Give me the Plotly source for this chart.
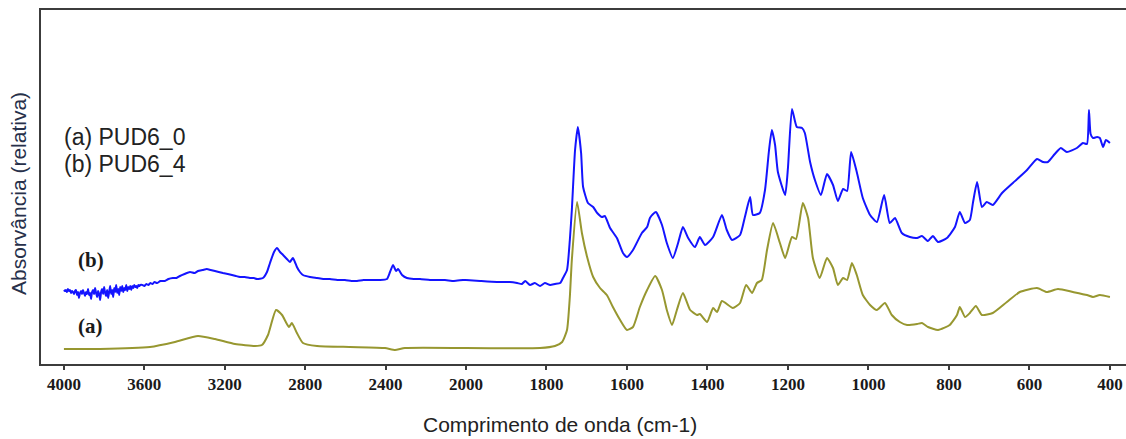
import numpy as np
import plotly.graph_objects as go

# ---------------- data (wavenumber cm-1, relative absorbance) ----------------
wn_a = [4000, 3821, 3572, 3448, 3333, 3249, 3149, 3050, 3015, 2985, 2945, 2915, 2881, 2866,
        2841, 2811, 2741, 2577, 2403, 2353, 2304, 2000, 1816, 1779, 1761, 1749, 1742, 1737,
        1724, 1712, 1699, 1684, 1667, 1650, 1635, 1617, 1600, 1585, 1568, 1550, 1530, 1513,
        1501, 1488, 1476, 1461, 1443, 1426, 1419, 1401, 1386, 1376, 1364, 1337, 1319, 1304,
        1289, 1277, 1265, 1252, 1237, 1220, 1207, 1190, 1180, 1163, 1150, 1138, 1121, 1103,
        1088, 1076, 1063, 1053, 1041, 1029, 1014, 996, 979, 959, 942, 922, 904, 879, 867,
        852, 827, 798, 780, 773, 760, 748, 733, 718, 691, 656, 624, 581, 557, 529, 492, 457,
        442, 425, 400]
abs_a = [0.15, 0.15, 0.17, 0.22, 0.28, 0.25, 0.20, 0.18, 0.19, 0.29, 0.54, 0.49, 0.37, 0.41,
         0.31, 0.21, 0.18, 0.17, 0.16, 0.14, 0.16, 0.16, 0.16, 0.18, 0.22, 0.34, 0.67, 1.04,
         1.62, 1.31, 1.07, 0.87, 0.76, 0.69, 0.57, 0.44, 0.34, 0.37, 0.57, 0.74, 0.88, 0.74,
         0.54, 0.39, 0.54, 0.71, 0.54, 0.49, 0.50, 0.42, 0.56, 0.52, 0.63, 0.56, 0.61, 0.79,
         0.71, 0.81, 0.84, 1.14, 1.41, 1.21, 1.06, 1.27, 1.25, 1.61, 1.46, 1.06, 0.86, 1.06,
         0.96, 0.79, 0.86, 0.84, 1.01, 0.89, 0.69, 0.59, 0.54, 0.61, 0.49, 0.42, 0.39, 0.40, 0.41,
         0.37, 0.34, 0.39, 0.49, 0.57, 0.47, 0.51, 0.58, 0.49, 0.51, 0.62, 0.72, 0.76, 0.72, 0.75, 0.72, 0.69,
         0.67, 0.69, 0.67]

wn_b = [4000, 3995, 3990, 3985, 3980, 3975, 3970, 3965, 3960, 3955, 3950, 3945, 3940, 3935,
        3930, 3925, 3920, 3915, 3910, 3905, 3900, 3895, 3890, 3885, 3880, 3875, 3870, 3865,
        3860, 3855, 3850, 3845, 3840, 3835, 3830, 3825, 3820, 3815, 3810, 3805, 3800, 3795,
        3790, 3785, 3780, 3775, 3770, 3765, 3760, 3755, 3750, 3745, 3740, 3735, 3730, 3725,
        3720, 3715, 3710, 3705, 3700, 3695, 3690, 3685, 3680, 3675, 3670, 3665, 3660, 3655,
        3650, 3645, 3640, 3635, 3630, 3625, 3620, 3610, 3600, 3590, 3580, 3570, 3560, 3550,
        3537, 3520, 3498, 3480, 3458, 3440, 3423, 3400, 3373, 3350, 3333, 3310, 3289, 3270,
        3249, 3230, 3209, 3185, 3164, 3145, 3124, 3100, 3075, 3055, 3040, 3010, 2990, 2975,
        2955, 2940, 2925, 2910, 2891, 2876, 2861, 2851, 2841, 2826, 2811, 2776, 2741, 2710,
        2677, 2640, 2602, 2570, 2542, 2510, 2478, 2430, 2393, 2378, 2363, 2348, 2338, 2318,
        2294, 2260, 2229, 2179, 2140, 2105, 2060, 2015, 2000, 1965, 1923, 1891, 1873, 1861,
        1853, 1841, 1829, 1816, 1804, 1791, 1779, 1766, 1759, 1749, 1742, 1737, 1729, 1722,
        1714, 1709, 1697, 1684, 1674, 1662, 1655, 1642, 1625, 1610, 1600, 1585, 1563, 1550,
        1543, 1535, 1528, 1513, 1501, 1486, 1473, 1461, 1448, 1431, 1419, 1406, 1386, 1364,
        1352, 1339, 1319, 1307, 1294, 1287, 1270, 1257, 1247, 1240, 1232, 1225, 1207, 1200,
        1190, 1178, 1165, 1158, 1145, 1133, 1118, 1103, 1088, 1076, 1063, 1053, 1043, 1029,
        1014, 996, 979, 961, 947, 934, 917, 897, 879, 867, 852, 840, 827, 805, 785, 773, 760,
        748, 740, 730, 718, 706, 691, 668, 641, 606, 581, 566, 554, 537, 522, 507, 482, 467,
        457, 452, 448, 442, 432, 425, 417, 410, 400]
abs_b = [0.74, 0.73, 0.74, 0.72, 0.75, 0.73, 0.74, 0.71, 0.73, 0.72,
         0.70, 0.73, 0.74, 0.69, 0.72, 0.66, 0.71, 0.73, 0.70, 0.74,
         0.71, 0.68, 0.72, 0.70, 0.75, 0.69, 0.71, 0.65, 0.72, 0.74,
         0.70, 0.76, 0.71, 0.67, 0.73, 0.70, 0.64, 0.72, 0.75, 0.70,
         0.77, 0.71, 0.68, 0.74, 0.66, 0.72, 0.78, 0.70, 0.74, 0.67,
         0.76, 0.72, 0.79, 0.71, 0.75, 0.69, 0.77, 0.73, 0.78, 0.72,
         0.76, 0.74, 0.79, 0.73, 0.77, 0.75, 0.78, 0.74, 0.78, 0.76,
         0.79, 0.77, 0.78, 0.76, 0.79, 0.78, 0.79,
         0.79, 0.78, 0.80, 0.79, 0.81, 0.80, 0.82,
         0.81, 0.83, 0.83, 0.85, 0.86, 0.86, 0.88, 0.90, 0.92, 0.91, 0.93, 0.94, 0.95, 0.94,
         0.93, 0.92, 0.91, 0.90, 0.89, 0.88, 0.87, 0.87, 0.86, 0.86, 0.85, 0.86, 0.92, 1.01,
         1.12, 1.16, 1.12, 1.09, 1.05, 1.02, 1.06, 1.02, 0.97, 0.92, 0.89, 0.87, 0.86, 0.85,
         0.85, 0.84, 0.84, 0.83, 0.83, 0.84, 0.84, 0.84, 0.85, 0.92, 0.99, 0.93, 0.95, 0.89,
         0.86, 0.85, 0.85, 0.84, 0.84, 0.84, 0.83, 0.84, 0.84, 0.83, 0.82, 0.82, 0.81, 0.80,
         0.83, 0.79, 0.81, 0.78, 0.81, 0.79, 0.80, 0.81, 0.86, 0.94, 1.24, 1.54, 2.14, 2.37,
         2.11, 1.77, 1.61, 1.57, 1.51, 1.47, 1.48, 1.36, 1.26, 1.11, 1.07, 1.14, 1.31, 1.37,
         1.46, 1.50, 1.52, 1.39, 1.21, 1.06, 1.21, 1.37, 1.26, 1.17, 1.27, 1.19, 1.27, 1.49,
         1.34, 1.24, 1.29, 1.47, 1.67, 1.49, 1.51, 1.74, 2.14, 2.34, 2.19, 1.92, 1.69, 1.96,
         2.55, 2.37, 2.36, 2.31, 2.02, 1.84, 1.69, 1.90, 1.79, 1.63, 1.75, 1.73, 2.12, 1.92,
         1.66, 1.49, 1.42, 1.69, 1.41, 1.46, 1.31, 1.27, 1.26, 1.28, 1.23, 1.28, 1.22, 1.26, 1.37, 1.52, 1.41,
         1.44, 1.62, 1.82, 1.57, 1.62, 1.59, 1.71, 1.81, 1.94, 2.05, 2.02, 2.02, 2.10, 2.16, 2.12, 2.16, 2.21,
         2.20, 2.54, 2.30, 2.26, 2.27, 2.26, 2.17, 2.24, 2.21]

ticks_high = [4000, 3600, 3200, 2800, 2400, 2000]
ticks_low = [1800, 1600, 1400, 1200, 1000, 800, 600, 400]

legend_lines = ["(a) PUD6_0", "(b) PUD6_4"]
curve_labels = ["(a)", "(b)"]
x_title = "Comprimento de onda (cm-1)"
y_title = "Absorvância (relativa)"

# ---------------- figure ----------------
OLIVE = "#979730"
BLUE = "#1414ff"
AXIS = "#3c3c3c"

fig = go.Figure()

def add_series(wn, ab, color):
    wn = np.asarray(wn, dtype=float)
    ab = np.asarray(ab, dtype=float)
    hi = wn >= 2000
    lo = wn <= 2000
    line = dict(color=color, width=2, shape="spline", smoothing=0.5)
    fig.add_trace(go.Scatter(x=wn[hi], y=ab[hi], mode="lines", xaxis="x", yaxis="y",
                             line=line, showlegend=False, hoverinfo="skip"))
    fig.add_trace(go.Scatter(x=wn[lo], y=ab[lo], mode="lines", xaxis="x2", yaxis="y",
                             line=line, showlegend=False, hoverinfo="skip"))

add_series(wn_a, abs_a, OLIVE)
add_series(wn_b, abs_b, BLUE)

W, H = 1126, 439
ml, mr, mt, mb = 41, 0, 10, 75
pw = W - ml - mr
ph = H - mt - mb
split = (466 - ml) / pw

tickfont = dict(family="Liberation Serif", size=17, color="#1a1a1a", weight="bold")
common_x = dict(showline=True, linecolor=AXIS, linewidth=2, mirror=True,
                ticks="outside", ticklen=4, tickwidth=1.5, tickcolor=AXIS,
                showgrid=False, zeroline=False, tickfont=tickfont, anchor="y",
                automargin=False)

fig.update_layout(
    width=W, height=H,
    margin=dict(l=ml, r=mr, t=mt, b=mb, autoexpand=False),
    paper_bgcolor="white", plot_bgcolor="white",
    xaxis=dict(domain=[0, split], range=[4114, 2000], tickvals=ticks_high,
               ticktext=[str(t) for t in ticks_high], **common_x),
    xaxis2=dict(domain=[split, 1], range=[2000, 360], tickvals=ticks_low,
                ticktext=[str(t) for t in ticks_low], **common_x),
    yaxis=dict(domain=[0, 1], range=[0, ph / 100], showline=True, linecolor=AXIS,
               linewidth=2, showticklabels=False, ticks="", showgrid=False,
               zeroline=False, anchor="x", automargin=False),
)

def px_x(p):
    return (p - ml) / pw

def px_y(p):
    return (H - mb - p) / ph

ann = []
ann.append(dict(text=x_title, x=px_x(560), y=px_y(425), xref="paper", yref="paper",
                showarrow=False, xanchor="center", yanchor="middle",
                font=dict(family="Liberation Sans", size=21, color="#222222")))
ann.append(dict(text=y_title, x=px_x(18), y=px_y(194), xref="paper", yref="paper",
                showarrow=False, xanchor="center", yanchor="middle", textangle=-90,
                font=dict(family="Liberation Sans", size=21, color="#27304a")))
for i, t in enumerate(legend_lines):
    ann.append(dict(text=t, x=px_x(62), y=px_y(137 + 27 * i), xref="paper", yref="paper",
                    showarrow=False, xanchor="left", yanchor="middle",
                    font=dict(family="Liberation Sans", size=23, color="#222222")))
label_pos = [(90, 326), (91, 260)]
for t, (lx, ly) in zip(curve_labels, label_pos):
    ann.append(dict(text=t, x=px_x(lx), y=px_y(ly), xref="paper", yref="paper",
                    showarrow=False, xanchor="center", yanchor="middle",
                    font=dict(family="Liberation Serif", size=21, color="#1a1a1a", weight="bold")))
fig.update_layout(annotations=ann)

fig.write_html("out.html")
